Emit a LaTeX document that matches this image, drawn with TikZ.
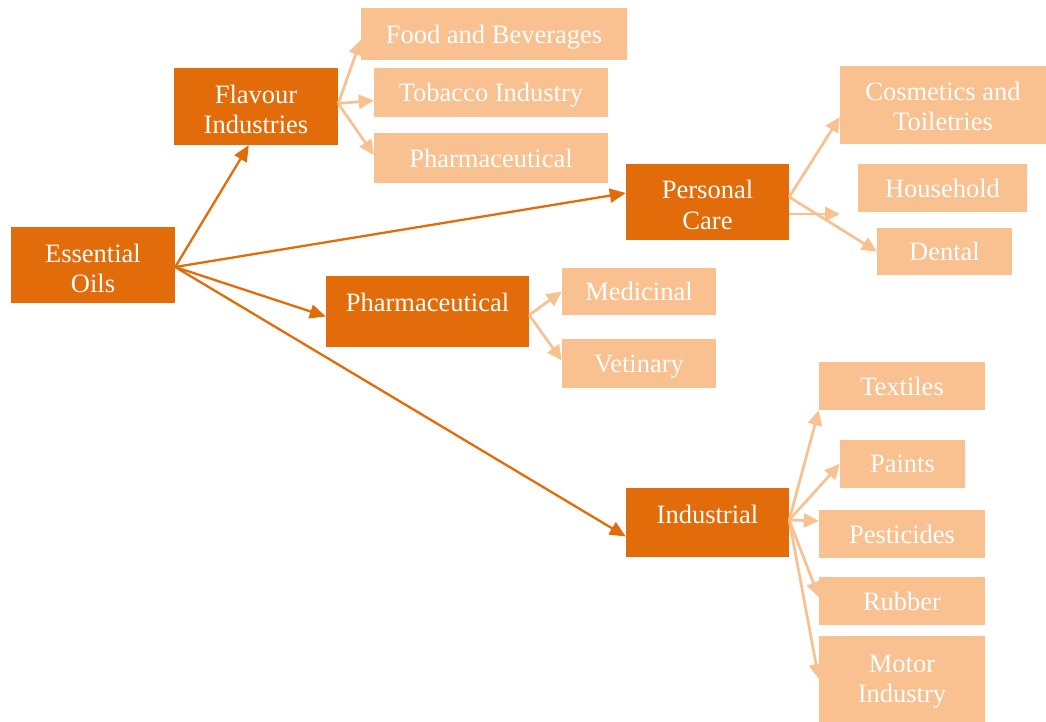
\documentclass[tikz,border=0pt]{standalone}
\usepackage{fontspec}
\setmainfont{Liberation Serif}
\usetikzlibrary{arrows.meta}
\definecolor{dk}{RGB}{227,108,10}
\definecolor{lt}{RGB}{249,192,144}
\tikzset{
  box/.style={rectangle, inner sep=0pt, align=center, text=white, text depth=0pt,
    font=\fontsize{26.5}{30}\selectfont},
  dbox/.style={box, fill=dk},
  lbox/.style={box, fill=lt},
  lowtext/.style={text height=54pt},
  darr/.style={draw=dk, line width=2.3pt, -{Triangle[length=16pt,width=14pt]}},
  larr/.style={draw=lt, line width=2.7pt, -{Triangle[length=15pt,width=14pt]}}
}
\begin{document}
\begin{tikzpicture}[x=1pt,y=-1pt]
\useasboundingbox (0,0) rectangle (1046,722);
% dark boxes
\node[dbox, lowtext, minimum width=164pt, minimum height=76pt] (eo) at (93,265) {Essential\\Oils};
\node[dbox, lowtext, minimum width=164pt, minimum height=77pt] (flav) at (256,106.5) {Flavour\\Industries};
\node[dbox, lowtext, minimum width=163pt, minimum height=76pt] (pc) at (707.5,202) {Personal\\Care};
\node[dbox, minimum width=203pt, minimum height=71pt, text depth=18pt] (ph) at (427.5,311.5) {Pharmaceutical};
\node[dbox, minimum width=163pt, minimum height=69pt, text depth=17pt] (ind) at (707.5,522.5) {Industrial};
% light boxes
\node[lbox, minimum width=266pt, minimum height=52pt] (food) at (494,34) {Food and Beverages};
\node[lbox, minimum width=234pt, minimum height=49pt] (tob) at (491,92.5) {Tobacco Industry};
\node[lbox, minimum width=234pt, minimum height=50pt] (phl) at (491,158) {Pharmaceutical};
\node[lbox, text height=52pt, minimum width=206pt, minimum height=78pt] (cos) at (943,105) {Cosmetics and\\Toiletries};
\node[lbox, minimum width=169pt, minimum height=48pt] (hh) at (942.5,188) {Household};
\node[lbox, minimum width=135pt, minimum height=47pt] (den) at (944.5,251.5) {Dental};
\node[lbox, minimum width=154pt, minimum height=47pt] (med) at (639,291.5) {Medicinal};
\node[lbox, minimum width=154pt, minimum height=49pt] (vet) at (639,363.5) {Vetinary};
\node[lbox, minimum width=166pt, minimum height=48pt] (tex) at (902,386) {Textiles};
\node[lbox, minimum width=125pt, minimum height=48pt] (pai) at (902.5,464) {Paints};
\node[lbox, minimum width=166pt, minimum height=48pt] (pes) at (902,534) {Pesticides};
\node[lbox, minimum width=166pt, minimum height=48pt] (rub) at (902,601) {Rubber};
\node[lbox, minimum width=166pt, minimum height=86pt] (mot) at (902,679) {Motor\\Industry};
\coordinate (hhend) at (840,214);
% dark connectors
\draw[darr] ([yshift=-2pt]eo.east) -- ([xshift=75pt]flav.south west);
\draw[darr] ([yshift=-2pt]eo.east) -- ([yshift=9pt]pc.west);
\draw[darr] ([yshift=-2pt]eo.east) -- ([yshift=-5pt]ph.west);
\draw[darr] ([yshift=-2pt]eo.east) -- ([yshift=-14pt]ind.west);
% light connectors
\draw[larr] ([yshift=3pt]flav.east) -- ([yshift=-6pt]food.west);
\draw[larr] ([yshift=3pt]flav.east) -- ([yshift=-8pt]tob.west);
\draw[larr] ([yshift=3pt]flav.east) -- ([yshift=3pt]phl.west);
\draw[larr] ([yshift=5pt]pc.east) -- ([yshift=-12pt]cos.west);
\draw[larr] ([yshift=-12pt]pc.east) -- (hhend);
\draw[larr] ([yshift=5pt]pc.east) -- (den.west);
\draw[larr] ([yshift=-3.5pt]ph.east) -- (med.west);
\draw[larr] ([yshift=-3.5pt]ph.east) -- ([yshift=3pt]vet.west);
\draw[larr] ([yshift=2.5pt]ind.east) -- (tex.south west);
\draw[larr] ([yshift=2.5pt]ind.east) -- (pai.west);
\draw[larr] ([yshift=2.5pt]ind.east) -- ([yshift=13pt]pes.west);
\draw[larr] ([yshift=2.5pt]ind.east) -- ([yshift=4pt]rub.west);
\draw[larr] ([yshift=2.5pt]ind.east) -- (mot.west);
\end{tikzpicture}
\end{document}
